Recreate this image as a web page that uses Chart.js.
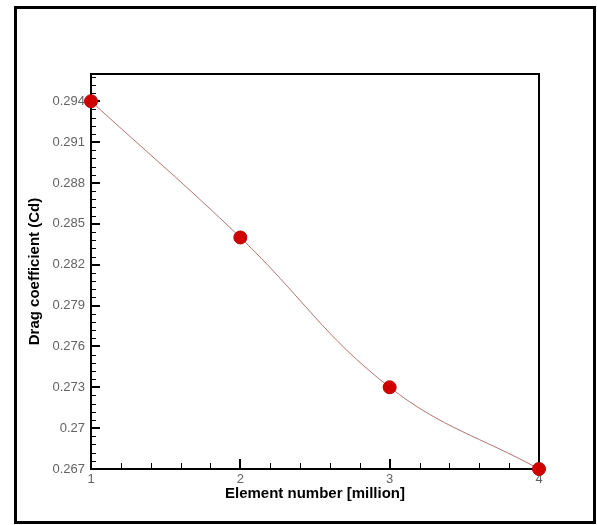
<!DOCTYPE html>
<html>
<head>
<meta charset="utf-8">
<script src="https://cdn.jsdelivr.net/npm/chart.js@4/dist/chart.umd.min.js"></script>
<style>
  html, body { margin: 0; padding: 0; background: #fff; }
  #wrap { width: 597px; height: 525px; position: relative; }
</style>
</head>
<body>
<div id="wrap"><canvas id="cd"></canvas></div>
<script>
// Data
const elementNumbers = [1, 2, 3, 4];          // million elements
const dragCoeffs = [0.294, 0.284, 0.273, 0.267];
const xTickValues = [1, 2, 3, 4];
const yTickValues = [0.267, 0.270, 0.273, 0.276, 0.279, 0.282, 0.285, 0.288, 0.291, 0.294];

const X_MIN = 1, X_MAX = 4, X_MINOR = 0.2;
const Y_MIN = 0.267, Y_MAX = 0.296, Y_MINOR = 0.0006;

// Frame + inward ticks, Tecplot style
const framePlugin = {
  id: 'frame',
  beforeDraw(chart) {
    const ctx = chart.ctx;
    ctx.save();
    ctx.strokeStyle = '#000';
    ctx.lineWidth = 3;
    ctx.strokeRect(15.5, 7.5, 579, 515);
    ctx.restore();
  },
  beforeDatasetsDraw(chart) {
    const { ctx, chartArea: a, scales: { x, y } } = chart;
    ctx.save();
    ctx.strokeStyle = '#000';

    // minor ticks
    ctx.lineWidth = 1;
    ctx.beginPath();
    for (let k = 0; X_MIN + k * X_MINOR <= X_MAX + 1e-9; k++) {
      const px = Math.round(x.getPixelForValue(X_MIN + k * X_MINOR)) + 0.5;
      ctx.moveTo(px, a.bottom);
      ctx.lineTo(px, a.bottom - 6);
    }
    for (let k = 0; Y_MIN + k * Y_MINOR <= Y_MAX + 1e-9; k++) {
      const py = Math.round(y.getPixelForValue(Y_MIN + k * Y_MINOR)) + 0.5;
      ctx.moveTo(a.left, py);
      ctx.lineTo(a.left + 5, py);
    }
    ctx.stroke();

    // major ticks
    ctx.lineWidth = 2;
    ctx.beginPath();
    xTickValues.forEach(v => {
      const px = Math.round(x.getPixelForValue(v));
      ctx.moveTo(px, a.bottom);
      ctx.lineTo(px, a.bottom - 10);
    });
    yTickValues.forEach(v => {
      const py = Math.round(y.getPixelForValue(v));
      ctx.moveTo(a.left, py);
      ctx.lineTo(a.left + 9, py);
    });
    ctx.stroke();

    // plot box
    ctx.lineWidth = 2;
    ctx.strokeRect(a.left, a.top, a.right - a.left, a.bottom - a.top);
    ctx.restore();
  }
};

const ctx = document.getElementById('cd').getContext('2d');

new Chart(ctx, {
  type: 'line',
  data: {
    datasets: [{
      data: elementNumbers.map((v, i) => ({ x: v, y: dragCoeffs[i] })),
      borderColor: '#b27272',
      borderWidth: 1,
      tension: 0.4,
      pointRadius: 6.5,
      pointBackgroundColor: '#d00000',
      pointBorderColor: '#b80000',
      pointBorderWidth: 1,
      clip: false
    }]
  },
  options: {
    responsive: true,
    maintainAspectRatio: false,
    animation: false,
    events: [],
    layout: { padding: { left: 0, right: 58, top: 74, bottom: 0 } },
    plugins: {
      legend: { display: false },
      tooltip: { enabled: false }
    },
    scales: {
      x: {
        type: 'linear',
        min: X_MIN,
        max: X_MAX,
        afterFit(scale) { scale.height = 56; },
        afterBuildTicks(scale) { scale.ticks = xTickValues.map(v => ({ value: v })); },
        grid: { display: false, drawTicks: false },
        border: { display: false },
        ticks: {
          padding: 3,
          color: '#636363',
          font: { family: 'Liberation Sans, Arial', size: 13 },
          callback: v => String(v)
        },
        title: {
          display: true,
          text: 'Element number [million]',
          color: '#000',
          font: { family: 'Liberation Sans, Arial', size: 15, weight: 'bold' },
          padding: { top: 0, bottom: 22 }
        }
      },
      y: {
        min: Y_MIN,
        max: Y_MAX,
        afterFit(scale) { scale.width = 91; },
        afterBuildTicks(scale) { scale.ticks = yTickValues.map(v => ({ value: v })); },
        grid: { display: false, drawTicks: false },
        border: { display: false },
        ticks: {
          padding: 6,
          color: '#636363',
          font: { family: 'Liberation Sans, Arial', size: 13 },
          callback: v => String(Number(v.toFixed(3)))
        },
        title: {
          display: true,
          text: 'Drag coefficient (Cd)',
          color: '#000',
          font: { family: 'Liberation Sans, Arial', size: 15, weight: 'bold' },
          padding: { top: 26, bottom: 0 }
        }
      }
    }
  },
  plugins: [framePlugin]
});
</script>
</body>
</html>
